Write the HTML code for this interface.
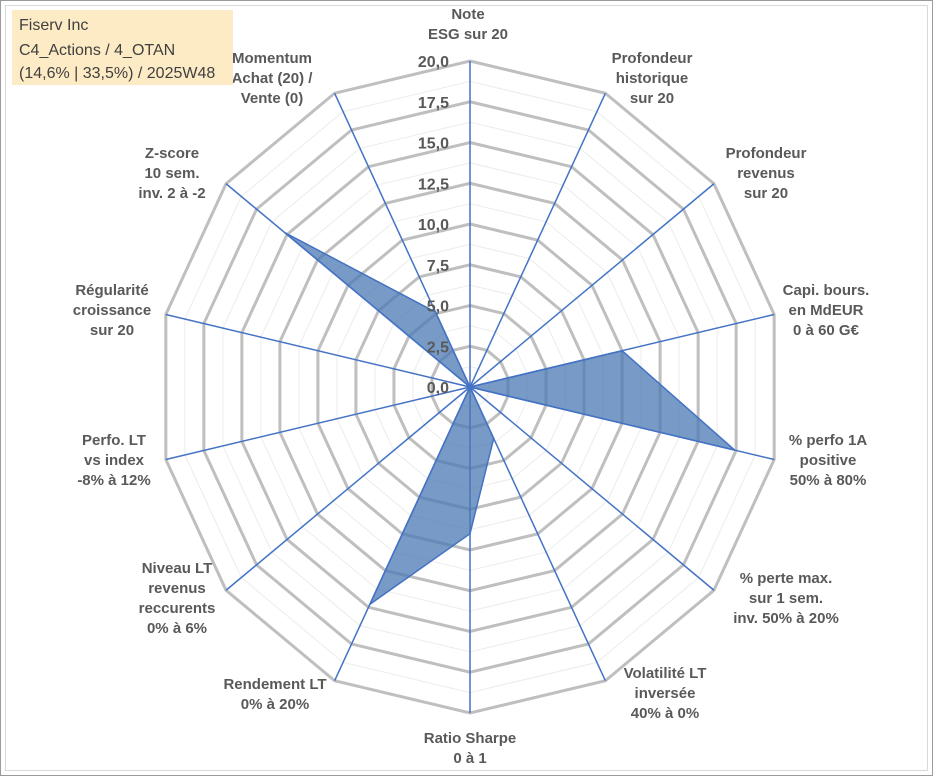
<!DOCTYPE html>
<html><head><meta charset="utf-8"><style>
body{margin:0;background:#fff;}
svg{display:block;font-family:"Liberation Sans",Arial,sans-serif;}
</style></head><body>
<svg id="chart" width="933" height="776">
<rect x="0.5" y="0.5" width="932" height="775" fill="#fff" stroke="#9a9a9a"/>
<rect x="5.5" y="5.5" width="922" height="765" fill="none" stroke="#d9d9d9"/>
<g id="grid"></g><g id="axes"></g><g id="series"></g><g id="ticks"></g><g id="labels"></g>
<rect x="12" y="10" width="221" height="75" fill="#fdebc6"/>
<g font-size="16" fill="#404040">
<text x="19" y="30">Fiserv Inc</text>
<text x="19" y="55">C4_Actions / 4_OTAN</text>
<text x="19" y="78">(14,6% | 33,5%) / 2025W48</text>
</g>
</svg>
<script>
const categories=[["Note","ESG sur 20"],["Profondeur","historique","sur 20"],["Profondeur","revenus","sur 20"],["Capi. bours.","en MdEUR","0 à 60 G€"],["% perfo 1A","positive","50% à 80%"],["% perte max.","sur 1 sem.","inv. 50% à 20%"],["Volatilité LT","inversée","40% à 0%"],["Ratio Sharpe","0 à 1"],["Rendement LT","0% à 20%"],["Niveau LT","revenus","reccurents","0% à 6%"],["Perfo. LT","vs index","-8% à 12%"],["Régularité","croissance","sur 20"],["Z-score","10 sem.","inv. 2 à -2"],["Momentum","Achat (20) /","Vente (0)"]];
const values=[0,0,0,10,17.4,0,3.5,9,14.8,0,0,0,15.2,5.1];
const tickLabels=["0,0","2,5","5,0","7,5","10,0","12,5","15,0","17,5","20,0"];
const maxV=20;
const labelPos=[[468,14],[652,58],[766,153],[826,290],[828,440],[786,578],[665,673],[470,738],[275,684],[177,568],[114,440],[112,290],[172,153],[272,58]];
const cx=470,cy=387,Rx=312,Ry=326,N=categories.length;
const NS="http://www.w3.org/2000/svg";
function pt(i,v){const a=i*2*Math.PI/N;return [cx+Math.sin(a)*v/maxV*Rx,cy-Math.cos(a)*v/maxV*Ry];}
function mk(tag,attrs,parent){const e=document.createElementNS(NS,tag);for(const k in attrs)e.setAttribute(k,attrs[k]);parent.appendChild(e);return e;}
const grid=document.getElementById('grid');
for(let s=1;s<=16;s++){const v=s*1.25;const pts=[];for(let i=0;i<N;i++)pts.push(pt(i,v).join(','));
const major=s%2==0;
const el=mk('polygon',{points:pts.join(' '),fill:'none',stroke:major?'#bfbfbf':'#ececec','stroke-width':major?3:1},grid);

}
const axes=document.getElementById('axes');
for(let i=0;i<N;i++){const p=pt(i,maxV);
const el=mk('line',{x1:cx,y1:cy,x2:p[0],y2:p[1],stroke:'#4472c4','stroke-width':1.5},axes);

}
const ser=document.getElementById('series');
const poly=mk('polygon',{points:values.map((v,i)=>pt(i,v).join(',')).join(' '),fill:'#4a78b3','fill-opacity':0.75,stroke:'#4472c4','stroke-width':1.5},ser);


const ticks=document.getElementById('ticks');
tickLabels.forEach((t,k)=>{const y=cy-k*2.5/maxV*Ry;
const el=mk('text',{x:449,y:y+6,'text-anchor':'end','font-size':16,'font-weight':'bold',fill:'#595959'},ticks);
el.textContent=t;

});
const labels=document.getElementById('labels');
categories.forEach((lines,i)=>{const [x,y]=labelPos[i];
const g=mk('text',{x:x,y:y+5,'text-anchor':'middle','font-size':15,'font-weight':'bold',fill:'#595959'},labels);


lines.forEach((l,j)=>{const ts=mk('tspan',{x:x,y:y+5+j*20},g);ts.textContent=l;});});
</script>
</body></html>
